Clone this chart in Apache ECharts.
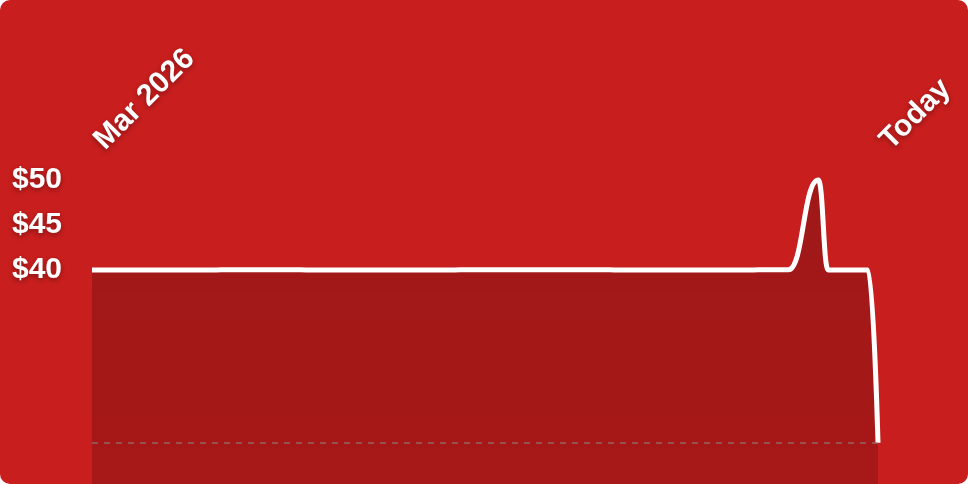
<!DOCTYPE html>
<html>
<head>
<meta charset="utf-8">
<title>Price history</title>
<script src="https://cdn.jsdelivr.net/npm/echarts@6/dist/echarts.min.js"></script>
<style>
  html, body { margin: 0; padding: 0; background: #fff; }
  #chart { width: 968px; height: 484px; background: #c81e1e; border-radius: 10px; overflow: hidden; }
</style>
</head>
<body>
<div id="chart"></div>
<script>
// days counted from 1 Mar 2026, last day = today
var days   = [0, 12, 13, 21, 22, 36, 37, 52, 53, 66, 67, 70, 73, 74, 78, 79];
var prices = [39.99, 39.99, 40.02, 40.02, 39.99, 39.99, 40.02, 40.02, 39.99, 39.99, 40.02, 40.02, 50, 40, 40, 20.8];
var xLabels = ['Mar 2026', 'Today'];
var lowLine = 20.8;

var points = [];
for (var i = 0; i < days.length; i++) {
    points.push([days[i], prices[i]]);
}
var lastDay = days[days.length - 1];

var labelFont = {
    color: '#fff',
    fontSize: 30,
    fontWeight: 'bold',
    fontFamily: 'Liberation Sans, Arial, sans-serif',
    textShadowColor: 'rgba(0,0,0,0.35)',
    textShadowBlur: 5,
    textShadowOffsetY: 2
};

var myChart = echarts.init(document.getElementById('chart'));
var option = {
    backgroundColor: 'transparent',
    animation: false,
    grid: {
        left: 92,
        right: 90,
        top: 180,
        bottom: -11,
        outerBoundsMode: 'none'
    },
    xAxis: {
        type: 'value',
        position: 'top',
        min: 0,
        max: lastDay,
        interval: lastDay,
        axisLine: { show: false },
        axisTick: { show: false },
        splitLine: { show: false },
        axisLabel: Object.assign({
            rotate: -45,
            margin: 28,
            padding: [0, 0, 0, 10],
            showMinLabel: true,
            showMaxLabel: true,
            formatter: function (v) {
                return v === 0 ? xLabels[0] : xLabels[1];
            }
        }, labelFont)
    },
    yAxis: {
        type: 'value',
        min: 15,
        max: 50,
        interval: 5,
        axisLine: { show: false },
        axisTick: { show: false },
        splitLine: { show: false },
        axisLabel: Object.assign({
            align: 'left',
            margin: 80,
            padding: [4, 0, 0, 0],
            formatter: function (v) {
                return v >= 40 ? '$' + v : '';
            }
        }, labelFont)
    },
    series: [{
        type: 'line',
        data: points,
        smooth: 0.5,
        smoothMonotone: 'x',
        showSymbol: false,
        clip: false,
        lineStyle: { color: '#fff', width: 5 },
        areaStyle: {
            origin: 'start',
            opacity: 1,
            color: new echarts.graphic.LinearGradient(0, 0, 0, 1, [
                { offset: 0, color: 'rgba(0,0,0,0.2)' },
                { offset: 1, color: 'rgba(0,0,0,0.16)' }
            ])
        },
        markLine: {
            silent: true,
            symbol: 'none',
            label: { show: false },
            lineStyle: { color: 'rgba(140,140,140,0.5)', type: [6, 6], width: 2 },
            data: [{ yAxis: lowLine }]
        }
    }]
};
myChart.setOption(option);
</script>
</body>
</html>
